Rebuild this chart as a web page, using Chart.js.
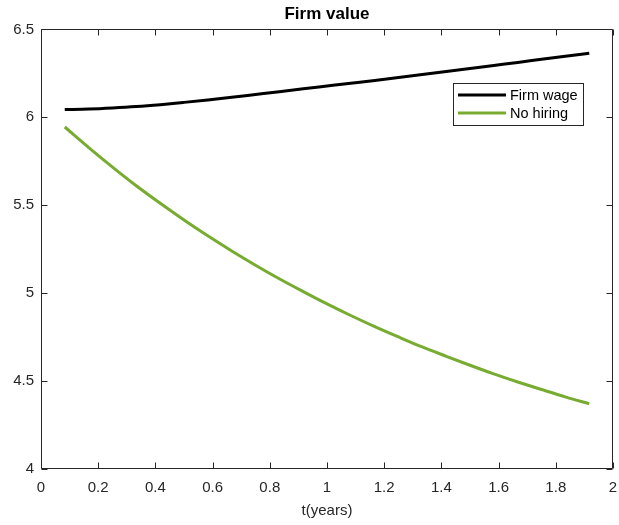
<!DOCTYPE html>
<html>
<head>
<meta charset="utf-8">
<script src="https://cdn.jsdelivr.net/npm/chart.js@4.4.1/dist/chart.umd.min.js"></script>
<style>
  html, body { margin: 0; padding: 0; background: #fff; }
</style>
</head>
<body>
<canvas id="chart" width="619" height="525"></canvas>
<script>
// ── Data ─────────────────────────────────────────────────────────────────────
const tYears = [0.083, 0.167, 0.25, 0.333, 0.417, 0.5, 0.583, 0.667, 0.75, 0.833, 0.917, 1.0,
                1.083, 1.167, 1.25, 1.333, 1.417, 1.5, 1.583, 1.667, 1.75, 1.833, 1.917];
const firmWage = [6.044, 6.047, 6.053, 6.061, 6.072, 6.085, 6.099, 6.114, 6.130, 6.146, 6.162, 6.178,
                  6.194, 6.210, 6.227, 6.244, 6.261, 6.278, 6.295, 6.312, 6.330, 6.347, 6.364];
const noHiring = [5.945, 5.828, 5.717, 5.611, 5.511, 5.416, 5.326, 5.240, 5.159, 5.082, 5.009, 4.939,
                  4.873, 4.810, 4.751, 4.694, 4.641, 4.590, 4.541, 4.495, 4.452, 4.410, 4.371];
const seriesNames = ["Firm wage", "No hiring"];
const xTicks = [0, 0.2, 0.4, 0.6, 0.8, 1, 1.2, 1.4, 1.6, 1.8, 2];
const yTicks = [4, 4.5, 5, 5.5, 6, 6.5];

const INK = "#262626";
const FONT = "'Liberation Sans', Arial, Helvetica, sans-serif";

// ── MATLAB-ish frame: box, inward ticks on all sides, legend inside ─────────
const frame = {
  id: "frame",
  afterDatasetsDraw(chart) {
    const { ctx, chartArea: a, scales: { x, y } } = chart;
    const L = Math.round(a.left) + 0.5, R = Math.round(a.right) - 0.5;
    const T = Math.round(a.top) + 0.5, B = Math.round(a.bottom) - 0.5;
    ctx.save();
    ctx.strokeStyle = INK;
    ctx.lineWidth = 1;
    ctx.beginPath();
    ctx.rect(L, T, R - L, B - T);
    x.ticks.forEach(t => {
      const px = Math.round(x.getPixelForValue(t.value)) + 0.5;
      ctx.moveTo(px, B); ctx.lineTo(px, B - 6);
      ctx.moveTo(px, T); ctx.lineTo(px, T + 6);
    });
    y.ticks.forEach(t => {
      const py = Math.round(y.getPixelForValue(t.value)) + 0.5;
      ctx.moveTo(L, py); ctx.lineTo(L + 6, py);
      ctx.moveTo(R, py); ctx.lineTo(R - 6, py);
    });
    ctx.stroke();

    // legend box
    const bx = 453.5, by = 83.5, bw = 130, bh = 42;
    ctx.fillStyle = "#fff";
    ctx.fillRect(bx, by, bw, bh);
    ctx.strokeRect(bx, by, bw, bh);
    ctx.font = "14.5px " + FONT;
    ctx.textBaseline = "middle";
    chart.data.datasets.forEach((ds, i) => {
      const ly = 95 + i * 18;
      ctx.strokeStyle = ds.borderColor;
      ctx.lineWidth = ds.borderWidth;
      ctx.beginPath();
      ctx.moveTo(458, ly); ctx.lineTo(506, ly);
      ctx.stroke();
      ctx.fillStyle = "#000";
      ctx.fillText(ds.label, 510, ly + 1);
    });
    ctx.restore();
  }
};

new Chart(document.getElementById("chart"), {
  type: "line",
  data: {
    datasets: [
      { label: seriesNames[0], data: tYears.map((t, i) => ({ x: t, y: firmWage[i] })),
        borderColor: "#000000", borderWidth: 3 },
      { label: seriesNames[1], data: tYears.map((t, i) => ({ x: t, y: noHiring[i] })),
        borderColor: "#77AC30", borderWidth: 3 }
    ]
  },
  options: {
    responsive: false,
    animation: false,
    events: [],
    layout: { padding: { top: 0, right: 6, bottom: 0, left: 0 } },
    elements: { point: { radius: 0 }, line: { cubicInterpolationMode: "monotone" } },
    plugins: {
      legend: { display: false },
      tooltip: { enabled: false },
      title: {
        display: true, text: "Firm value", fullSize: false, color: "#000",
        font: { family: FONT, size: 17, weight: "bold" },
        padding: { top: 4, bottom: 5 }
      }
    },
    scales: {
      x: {
        type: "linear", min: 0, max: 2,
        afterBuildTicks: s => { s.ticks = xTicks.map(v => ({ value: v })); },
        afterFit: s => { s.height = 56; },
        grid: { display: false, drawTicks: true, tickLength: 10 },
        border: { display: false },
        ticks: { color: INK, padding: 0, maxRotation: 0, autoSkip: false,
                 font: { family: FONT, size: 15 }, callback: v => String(v) },
        title: { display: true, text: "t(years)", color: INK,
                 font: { family: FONT, size: 15 }, padding: { top: 0, bottom: 5 } }
      },
      y: {
        type: "linear", min: 4, max: 6.5,
        afterBuildTicks: s => { s.ticks = yTicks.map(v => ({ value: v })); },
        afterFit: s => { s.width = 41; },
        grid: { display: false, drawTicks: true, tickLength: 0 },
        border: { display: false },
        ticks: { color: INK, padding: 7, autoSkip: false,
                 font: { family: FONT, size: 15 }, callback: v => String(v) }
      }
    }
  },
  plugins: [frame]
});
</script>
</body>
</html>
